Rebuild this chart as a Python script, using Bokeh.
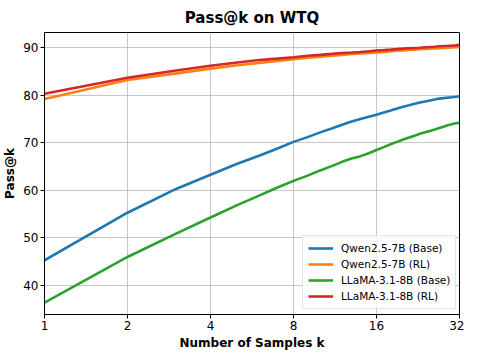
from bokeh.plotting import figure
from bokeh.models import FixedTicker, Legend, LegendItem
from bokeh.embed import file_html
from bokeh.resources import INLINE

k = list(range(1, 33))
qwen_base = [45.3, 55.3, 60.3, 63.3, 65.6, 67.3, 68.8, 70.2, 71.2, 72.2, 73.0, 73.8, 74.5, 75.0, 75.5, 75.9,
             76.4, 76.8, 77.2, 77.6, 77.9, 78.2, 78.5, 78.7, 78.9, 79.1, 79.3, 79.4, 79.5, 79.6, 79.7, 79.8]
qwen_rl = [79.2, 83.2, 84.6, 85.6, 86.3, 86.8, 87.2, 87.6, 87.9, 88.1, 88.3, 88.5, 88.7, 88.8, 88.9, 89.0,
           89.1, 89.25, 89.35, 89.45, 89.55, 89.6, 89.7, 89.75, 89.8, 89.85, 89.9, 89.95, 90.0, 90.05, 90.1, 90.1]
llama_base = [36.4, 46.0, 50.9, 54.3, 56.9, 58.9, 60.6, 62.0, 63.1, 64.2, 65.1, 66.0, 66.7, 67.2, 67.8, 68.5,
              69.1, 69.7, 70.2, 70.7, 71.1, 71.5, 71.9, 72.2, 72.5, 72.8, 73.1, 73.4, 73.7, 73.9, 74.1, 74.2]
llama_rl = [80.3, 83.7, 85.2, 86.2, 86.9, 87.4, 87.7, 88.0, 88.3, 88.5, 88.7, 88.9, 89.0, 89.1, 89.25, 89.4,
            89.5, 89.6, 89.7, 89.8, 89.9, 89.95, 90.0, 90.1, 90.15, 90.2, 90.3, 90.35, 90.4, 90.45, 90.5, 90.6]

series_names = ["Qwen2.5-7B (Base)", "Qwen2.5-7B (RL)", "LLaMA-3.1-8B (Base)", "LLaMA-3.1-8B (RL)"]
series_vals = [qwen_base, qwen_rl, llama_base, llama_rl]
colors = ["#1f77b4", "#ff7f0e", "#2ca02c", "#d62728"]
x_ticks = [1, 2, 4, 8, 16, 32]
y_ticks = [40, 50, 60, 70, 80, 90]

FONT = "DejaVu Sans"

p = figure(x_axis_type="log", x_range=(1, 32), y_range=(33.9, 93.2),
           output_backend="svg", toolbar_location=None,
           frame_width=415, frame_height=282,
           min_border_left=44, min_border_right=5, min_border_top=32, min_border_bottom=36)

p.title.text = "Pass@k on WTQ"
p.title.align = "center"
p.title.text_font = FONT
p.title.text_font_size = "15px"
p.title.text_font_style = "bold"
p.title.text_color = "black"
p.title.standoff = 12

renderers = []
for name, vals, c in zip(series_names, series_vals, colors):
    r = p.line(k, vals, line_color=c, line_width=2.6)
    renderers.append((name, r))

p.xaxis.ticker = FixedTicker(ticks=x_ticks, minor_ticks=[])
p.xaxis.major_label_overrides = {t: str(t) for t in x_ticks}
p.yaxis.ticker = FixedTicker(ticks=y_ticks, minor_ticks=[])

p.xaxis.axis_label = "Number of Samples k"
p.yaxis.axis_label = "Pass@k"
for ax in (p.xaxis, p.yaxis):
    ax.axis_label_text_font = FONT
    ax.axis_label_text_font_style = "bold"
    ax.axis_label_text_font_size = "12px"
    ax.axis_label_text_color = "black"
    ax.major_label_text_font = FONT
    ax.major_label_text_font_size = "12px"
    ax.major_label_text_color = "black"
    ax.major_tick_out = 4
    ax.major_tick_in = 0
    ax.minor_tick_out = 0
    ax.minor_tick_in = 0
    ax.axis_line_color = "black"
    ax.major_tick_line_color = "black"
    ax.axis_label_standoff = 3
    ax.major_label_standoff = 2

p.outline_line_color = "black"
p.outline_line_width = 1
p.xgrid.grid_line_color = "#b0b0b0"
p.ygrid.grid_line_color = "#b0b0b0"
p.xgrid.grid_line_alpha = 0.7
p.ygrid.grid_line_alpha = 0.7

legend = Legend(items=[LegendItem(label=n, renderers=[r]) for n, r in renderers],
                location=(258, 5))
legend.label_text_font = FONT
legend.label_text_font_size = "10.5px"
legend.label_text_color = "black"
legend.label_height = 14
legend.glyph_width = 25
legend.glyph_height = 14
legend.spacing = 2
legend.padding = 5
legend.margin = 0
legend.border_line_color = "#cccccc"
legend.background_fill_alpha = 0.8
legend.label_standoff = 8
p.add_layout(legend)

open("out.html", "w").write(file_html(p, INLINE))
